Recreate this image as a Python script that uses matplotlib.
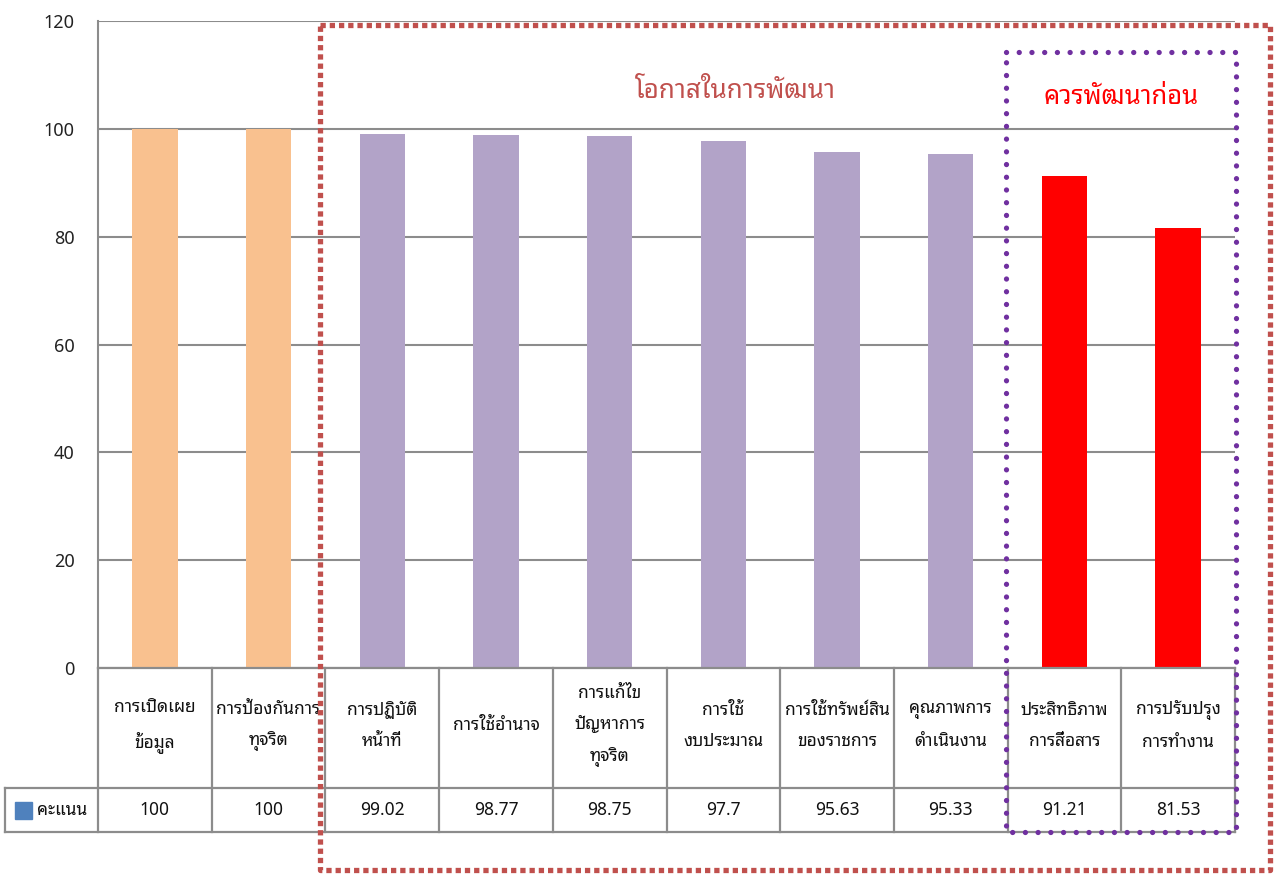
import matplotlib
matplotlib.use("Agg")
import matplotlib.pyplot as plt
import matplotlib.transforms as mtransforms
from matplotlib.patches import Rectangle

plt.rcParams['font.family'] = ['Noto Sans Thai Looped', 'DejaVu Sans']

categories = ["การเปิดเผย\nข้อมูล", "การป้องกันการ\nทุจริต", "การปฏิบัติ\nหน้าที่",
              "การใช้อำนาจ", "การแก้ไข\nปัญหาการ\nทุจริต", "การใช้\nงบประมาณ",
              "การใช้ทรัพย์สิน\nของราชการ", "คุณภาพการ\nดำเนินงาน",
              "ประสิทธิภาพ\nการสื่อสาร", "การปรับปรุง\nการทำงาน"]
scores = [100, 100, 99.02, 98.77, 98.75, 97.7, 95.63, 95.33, 91.21, 81.53]
score_labels = ["100", "100", "99.02", "98.77", "98.75", "97.7", "95.63", "95.33", "91.21", "81.53"]
groups = ["high", "high", "mid", "mid", "mid", "mid", "mid", "mid", "low", "low"]
series_name = "คะแนน"
yticks = [0, 20, 40, 60, 80, 100, 120]
group_colors = {"high": "#F9C18F", "mid": "#B2A3C8", "low": "#FF0000"}

W, H = 1274, 875
fig = plt.figure(figsize=(W / 100, H / 100), dpi=100)
ax = fig.add_axes([98 / W, 1 - 668 / H, (1235 - 98) / W, (668 - 21) / H])

x = list(range(len(categories)))
ax.bar(x, scores, width=0.40, color=[group_colors[g] for g in groups], zorder=3)
ax.set_xlim(-0.5, len(categories) - 0.5)
ax.set_ylim(0, 120)
ax.set_yticks(yticks)
ax.set_yticklabels([str(t) for t in yticks], fontsize=13, color="#222222")
ax.tick_params(axis='y', length=0, pad=17)
ax.tick_params(axis='x', length=0, labelbottom=False)
ax.grid(axis='y', color="#8C8C8C", linewidth=1.5, zorder=0)
for s in ["top", "right", "bottom"]:
    ax.spines[s].set_visible(False)
ax.spines["left"].set_color("#8C8C8C")
ax.spines["left"].set_linewidth(1.5)

# data table below the axes
tr = mtransforms.blended_transform_factory(ax.transData, ax.transAxes)
axh = 668 - 21
slot = (1235 - 98) / len(categories)
y_top = 0.0
y_mid = -(788 - 668) / axh
y_bot = -(832 - 668) / axh
xl = -0.5 - (98 - 5) / slot
lc = "#8C8C8C"
lw = 1.6
n = len(categories)
ax.plot([-0.5, n - 0.5], [y_top, y_top], color=lc, lw=lw, transform=tr, clip_on=False, zorder=4)
ax.plot([xl, n - 0.5], [y_mid, y_mid], color=lc, lw=lw, transform=tr, clip_on=False)
ax.plot([xl, n - 0.5], [y_bot, y_bot], color=lc, lw=lw, transform=tr, clip_on=False)
ax.plot([xl, xl], [y_mid, y_bot], color=lc, lw=lw, transform=tr, clip_on=False)
for i in range(n + 1):
    ax.plot([i - 0.5, i - 0.5], [y_top, y_bot], color=lc, lw=lw, transform=tr, clip_on=False)
for i in range(n):
    ax.text(i, (y_top + y_mid) / 2 + 0.004, categories[i], transform=tr, ha='center', va='center',
            fontsize=12.5, linespacing=1.95, color="#111111")
    ax.text(i, (y_mid + y_bot) / 2, score_labels[i], transform=tr, ha='center', va='center',
            fontsize=12.5, color="#111111")
# legend key
ymc = (y_mid + y_bot) / 2
sq = 17 / axh
ax.add_patch(Rectangle((xl + 10 / slot, ymc - sq / 2), 17 / slot, sq, transform=tr,
                       color="#4F81BD", clip_on=False))
ax.text(xl + 32 / slot, ymc, series_name, transform=tr, ha='left', va='center',
        fontsize=12.5, color="#111111")

# dotted group boxes
rx0 = -0.5 + (320 - 98) / slot
rx1 = -0.5 + (1270 - 98) / slot
ry0 = (668 - 25) / axh
ry1 = (668 - 870) / axh
ax.plot([rx0, rx1, rx1, rx0, rx0], [ry0, ry0, ry1, ry1, ry0], color="#C0504D", lw=3.8,
        linestyle=(0, (1, 0.75)), dash_capstyle='butt', transform=tr, clip_on=False, zorder=6)
px0 = -0.5 + (1006 - 98) / slot
px1 = -0.5 + (1236 - 98) / slot
py0 = (668 - 52) / axh
py1 = y_bot
ax.plot([px0, px1, px1, px0, px0], [py0, py0, py1, py1, py0], color="#7030A0", lw=3.8,
        linestyle=(0, (0.01, 2.4)), dash_capstyle='round', transform=tr, clip_on=False, zorder=6)

ax.text(-0.5 + (735 - 98) / slot, (668 - 92) / axh, "โอกาสในการพัฒนา", transform=tr,
        ha='center', va='center', fontsize=18.7, color="#C0504D")
ax.text(-0.5 + (1121 - 98) / slot, (668 - 97) / axh, "ควรพัฒนาก่อน", transform=tr,
        ha='center', va='center', fontsize=18.4, color="#FF0000", fontweight='bold')

fig.savefig("out.png", dpi=100)
